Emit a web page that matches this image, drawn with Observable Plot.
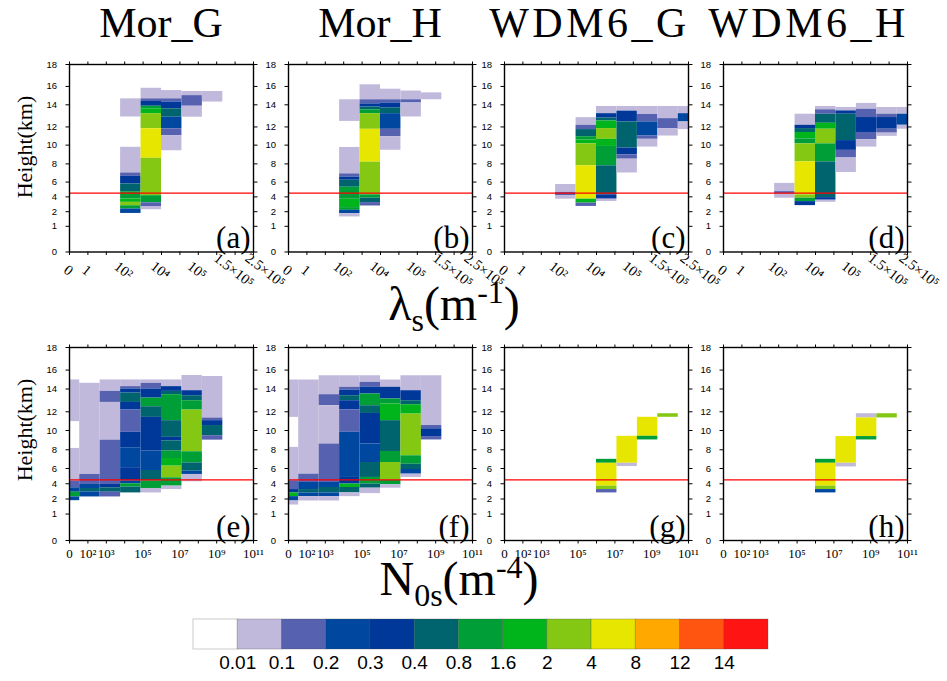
<!DOCTYPE html>
<html>
<head>
<meta charset="utf-8">
<script src="https://cdn.jsdelivr.net/npm/d3@7"></script>
<script src="https://cdn.jsdelivr.net/npm/@observablehq/plot@0.6"></script>
<style>
  html, body { margin: 0; padding: 0; background: #fff; }
  #root { position: relative; width: 947px; height: 681px; overflow: hidden; background: #fff; }
  .lbl { position: absolute; font-family: "Liberation Serif", "DejaVu Serif", serif; color: #000; white-space: nowrap; }
  .title { font-size: 42px; line-height: 42px; text-align: center; width: 260px; }
  .title.wide { letter-spacing: 3.5px; }
  .ylab { font-size: 22px; line-height: 22px; transform: translate(-50%, -50%) rotate(-90deg); }
  .xlab { font-size: 48px; line-height: 30px; transform: translateX(-50%); }
  .xlab sub, .xlab sup { font-size: 32px; line-height: 0; }
</style>
</head>
<body>
<div id="root"></div>
<script>
// Frequency classes (%) and their colours
const levels = [0.01, 0.1, 0.2, 0.3, 0.4, 0.8, 1.6, 2, 4, 8, 12, 14];
const palette = ["#ffffff", "#c1b9dc", "#5662b0", "#0047a0", "#00389a", "#00646e",
                 "#009e37", "#00b41c", "#84c814", "#e6e600", "#ffa800", "#ff5510", "#ff1414"];

const schemes = ["Mor_G", "Mor_H", "WDM6_G", "WDM6_H"];
const panelTags = ["(a)", "(b)", "(c)", "(d)", "(e)", "(f)", "(g)", "(h)"];

// Height axis (km) and melting level
const heightTicks = [0, 1, 2, 4, 6, 8, 10, 12, 14, 16, 18];
const meltingLevel = 4.5;

// Bin tick labels: slope parameter (top row) and intercept parameter (bottom row)
const lambdaTicks = ["0", "1", "10²", "10⁴", "10⁵", "1.5×10⁵", "2.5×10⁵"];
const lambdaTickAt = [0, 1, 3, 5, 7, 9, 10.7];
const n0Ticks = ["0", "10²", "10³", "10⁵", "10⁷", "10⁹", "10¹¹"];
const n0TickAt = [0, 1, 2, 4, 6, 8, 10];

// Segments: [bin, bottom km, top km, frequency class lower bound]
const morG_lambda = [
  [3, 12.9, 14.65, 0.01], [3, 7.0, 9.77, 0.01], [3, 6.63, 7.0, 0.1], [3, 5.74, 6.63, 0.3],
  [3, 4.7, 5.74, 0.4], [3, 3.72, 4.7, 0.8], [3, 3.26, 3.72, 1.6], [3, 2.8, 3.26, 2],
  [3, 2.36, 2.8, 0.8], [3, 1.88, 2.36, 0.2],
  [4, 14.65, 15.8, 0.01], [4, 14.36, 14.65, 0.1], [4, 13.87, 14.36, 0.3], [4, 13.64, 13.87, 0.8],
  [4, 13.2, 13.64, 1.6], [4, 11.8, 13.2, 2], [4, 8.6, 11.8, 4], [4, 4.16, 8.6, 2],
  [4, 3.2, 4.16, 0.8], [4, 2.7, 3.2, 0.1], [4, 2.26, 2.7, 0.01],
  [5, 14.65, 15.55, 0.01], [5, 14.3, 14.65, 0.1], [5, 13.64, 14.3, 0.3], [5, 12.88, 13.64, 0.4],
  [5, 11.8, 12.88, 0.2], [5, 11.05, 11.8, 0.1], [5, 9.4, 11.05, 0.01],
  [6, 15.0, 15.45, 0.01], [6, 13.87, 15.0, 0.1], [6, 12.88, 13.87, 0.01],
  [7, 14.3, 15.45, 0.01]
];
const morH_lambda = [
  [3, 12.5, 14.55, 0.01], [3, 6.9, 9.75, 0.01], [3, 6.55, 6.9, 0.1], [3, 6.2, 6.55, 0.3],
  [3, 5.3, 6.2, 0.4], [3, 3.68, 5.3, 0.8], [3, 2.55, 3.68, 1.6], [3, 2.18, 2.55, 0.8],
  [3, 1.86, 2.18, 0.2], [3, 1.64, 1.86, 0.01],
  [4, 14.55, 16.15, 0.01], [4, 14.1, 14.55, 0.1], [4, 13.8, 14.1, 0.3], [4, 13.55, 13.8, 0.4],
  [4, 13.2, 13.55, 0.8], [4, 11.74, 13.2, 2], [4, 8.18, 11.74, 4], [4, 4.28, 8.18, 2],
  [4, 3.82, 4.28, 0.8], [4, 3.23, 3.82, 0.4], [4, 2.77, 3.23, 0.1],
  [5, 14.55, 15.7, 0.01], [5, 14.2, 14.55, 0.1], [5, 13.7, 14.2, 0.3], [5, 13.2, 13.7, 0.4],
  [5, 11.74, 13.2, 0.2], [5, 10.93, 11.74, 0.1], [5, 9.45, 10.93, 0.01],
  [6, 14.55, 15.5, 0.01], [6, 14.2, 14.55, 0.1], [6, 12.9, 14.2, 0.01],
  [7, 14.55, 15.3, 0.01]
];
const wdmG_lambda = [
  [3, 4.6, 5.67, 0.01], [3, 4.14, 4.6, 0.1], [3, 3.69, 4.14, 0.01],
  [4, 12.15, 12.84, 0.01], [4, 11.71, 12.15, 0.1], [4, 10.93, 11.71, 0.4], [4, 10.57, 10.93, 0.8],
  [4, 10.14, 10.57, 1.6], [4, 7.79, 10.14, 2], [4, 3.69, 7.79, 4], [4, 3.16, 3.69, 1.6],
  [4, 2.71, 3.16, 0.1],
  [5, 13.2, 13.85, 0.01], [5, 12.8, 13.2, 0.3], [5, 12.54, 12.8, 0.4], [5, 11.82, 12.54, 1.6],
  [5, 10.64, 11.82, 2], [5, 9.86, 10.64, 1.6], [5, 7.79, 9.86, 0.8], [5, 4.28, 7.79, 0.4],
  [5, 3.69, 4.28, 0.3], [5, 3.38, 3.69, 0.01],
  [6, 13.43, 13.85, 0.01], [6, 12.45, 13.43, 0.3], [6, 9.68, 12.45, 0.4], [6, 8.96, 9.68, 0.3],
  [6, 8.5, 8.96, 0.1], [6, 7.0, 8.5, 0.01],
  [7, 13.13, 13.85, 0.01], [7, 12.45, 13.13, 0.1], [7, 11.0, 12.45, 0.2], [7, 10.64, 11.0, 0.1],
  [7, 9.79, 10.64, 0.01],
  [8, 12.75, 13.85, 0.01], [8, 11.82, 12.75, 0.1], [8, 11.0, 11.82, 0.01],
  [9, 13.2, 13.85, 0.01], [9, 12.45, 13.2, 0.2], [9, 11.71, 12.45, 0.01]
];
const wdmH_lambda = [
  [3, 4.71, 5.82, 0.01], [3, 4.36, 4.71, 0.1], [3, 3.82, 4.36, 0.01],
  [4, 12.15, 13.15, 0.01], [4, 11.82, 12.15, 0.3], [4, 11.39, 11.82, 0.4], [4, 10.68, 11.39, 1.6],
  [4, 10.14, 10.68, 0.8], [4, 8.21, 10.14, 2], [4, 4.27, 8.21, 4], [4, 3.82, 4.27, 2],
  [4, 3.36, 3.82, 0.8], [4, 2.82, 3.36, 0.3],
  [5, 13.55, 13.85, 0.01], [5, 13.15, 13.55, 0.1], [5, 12.33, 13.15, 0.4], [5, 11.75, 12.33, 1.6],
  [5, 10.14, 11.75, 2], [5, 8.21, 10.14, 0.8], [5, 3.9, 8.21, 0.4], [5, 3.55, 3.9, 0.3],
  [5, 3.27, 3.55, 0.01],
  [6, 13.45, 13.76, 0.01], [6, 13.15, 13.45, 0.3], [6, 10.5, 13.15, 0.4], [6, 9.44, 10.5, 0.3],
  [6, 8.63, 9.44, 0.1], [6, 7.05, 8.63, 0.01],
  [7, 13.6, 14.15, 0.01], [7, 12.85, 13.6, 0.1], [7, 11.39, 12.85, 0.3], [7, 10.6, 11.39, 0.1],
  [7, 9.79, 10.6, 0.01],
  [8, 13.15, 13.76, 0.01], [8, 12.85, 13.15, 0.1], [8, 11.75, 12.85, 0.3], [8, 11.32, 11.75, 0.1],
  [8, 10.96, 11.32, 0.01],
  [9, 13.15, 13.76, 0.01], [9, 12.15, 13.15, 0.2], [9, 11.75, 12.15, 0.01]
];
const morG_n0 = [
  [0, 10.95, 14.96, 0.01], [0, 4.35, 8.14, 0.01], [0, 3.47, 4.35, 0.1], [0, 2.89, 3.47, 0.2],
  [0, 2.27, 2.89, 0.8], [0, 1.89, 2.27, 0.2],
  [1, 5.22, 14.6, 0.01], [1, 3.91, 5.22, 0.1], [1, 3.38, 3.91, 0.2], [1, 2.93, 3.38, 0.4],
  [1, 2.27, 2.93, 0.2],
  [2, 13.79, 14.96, 0.01], [2, 12.82, 13.79, 0.1], [2, 9.0, 12.82, 0.01], [2, 3.91, 9.0, 0.1],
  [2, 3.47, 3.91, 0.3], [2, 2.89, 3.47, 0.4], [2, 2.27, 2.89, 0.1],
  [3, 14.25, 14.96, 0.01], [3, 14.0, 14.25, 0.1], [3, 13.64, 14.0, 0.3], [3, 12.82, 13.64, 0.4],
  [3, 12.15, 12.82, 0.3], [3, 9.82, 12.15, 0.1], [3, 8.21, 9.82, 0.3], [3, 6.09, 8.21, 0.2],
  [3, 4.35, 6.09, 0.3], [3, 4.0, 4.35, 0.2], [3, 3.56, 4.0, 0.8], [3, 2.8, 3.56, 0.4],
  [4, 14.6, 14.96, 0.01], [4, 14.0, 14.6, 0.1], [4, 13.2, 14.0, 0.3], [4, 12.44, 13.2, 0.8],
  [4, 11.4, 12.44, 0.4], [4, 7.86, 11.4, 0.3], [4, 5.74, 7.86, 0.2], [4, 4.35, 5.74, 0.4],
  [4, 3.38, 4.35, 0.8], [4, 2.8, 3.38, 0.01],
  [5, 14.25, 14.96, 0.01], [5, 13.79, 14.25, 0.3], [5, 13.5, 13.79, 0.4], [5, 11.05, 13.5, 0.8],
  [5, 9.29, 11.05, 0.4], [5, 8.93, 9.29, 0.3], [5, 7.86, 8.93, 0.4], [5, 7.07, 7.86, 0.8],
  [5, 6.25, 7.07, 1.6], [5, 4.78, 6.25, 2], [5, 3.69, 4.78, 0.8], [5, 3.24, 3.69, 0.01],
  [6, 13.85, 15.43, 0.01], [6, 13.41, 13.85, 0.3], [6, 12.97, 13.41, 0.4], [6, 12.15, 12.97, 0.8],
  [6, 7.79, 12.15, 2], [6, 6.6, 7.79, 0.8], [6, 5.65, 6.6, 0.4], [6, 5.22, 5.65, 0.2],
  [6, 4.26, 5.22, 0.01],
  [7, 11.33, 15.32, 0.01], [7, 11.05, 11.33, 0.1], [7, 10.53, 11.05, 0.3], [7, 9.46, 10.53, 0.4],
  [7, 9.0, 9.46, 0.1]
];
const morH_n0 = [
  [0, 11.4, 14.95, 0.01], [0, 4.39, 8.25, 0.01], [0, 3.24, 4.39, 0.1], [0, 2.8, 3.24, 0.3],
  [0, 2.31, 2.8, 1.6], [0, 1.87, 2.31, 0.2], [0, 1.6, 1.87, 0.01],
  [1, 5.26, 14.95, 0.01], [1, 4.17, 5.26, 0.1], [1, 3.24, 4.17, 0.2], [1, 2.8, 3.24, 0.4],
  [1, 2.31, 2.8, 0.2], [1, 1.87, 2.31, 0.01],
  [2, 13.5, 15.4, 0.01], [2, 12.53, 13.5, 0.1], [2, 8.6, 12.53, 0.01], [2, 4.17, 8.6, 0.1],
  [2, 3.51, 4.17, 0.2], [2, 2.8, 3.51, 0.4], [2, 2.31, 2.8, 0.2], [2, 1.87, 2.31, 0.01],
  [3, 14.18, 15.4, 0.01], [3, 13.9, 14.18, 0.1], [3, 13.41, 13.9, 0.3], [3, 12.97, 13.41, 0.4],
  [3, 12.18, 12.97, 0.3], [3, 9.82, 12.18, 0.1], [3, 4.83, 9.82, 0.2], [3, 3.96, 4.83, 0.3],
  [3, 3.51, 3.96, 1.6], [3, 2.8, 3.51, 0.4], [3, 2.31, 2.8, 0.01],
  [4, 14.7, 15.4, 0.01], [4, 14.18, 14.7, 0.1], [4, 13.56, 14.18, 0.3], [4, 12.53, 13.56, 0.8],
  [4, 11.82, 12.53, 0.4], [4, 8.6, 11.82, 0.3], [4, 6.64, 8.6, 0.2], [4, 4.83, 6.64, 0.4],
  [4, 3.96, 4.83, 0.8], [4, 3.42, 3.96, 0.4], [4, 2.71, 3.42, 0.01],
  [5, 14.18, 14.95, 0.01], [5, 13.12, 14.18, 0.3], [5, 12.68, 13.12, 0.8], [5, 11.05, 12.68, 1.6],
  [5, 7.82, 11.05, 0.4], [5, 6.64, 7.82, 0.8], [5, 4.48, 6.64, 2], [5, 3.87, 4.48, 0.8],
  [5, 3.42, 3.87, 0.01],
  [6, 13.85, 15.4, 0.01], [6, 12.97, 13.85, 0.3], [6, 12.62, 12.97, 0.4], [6, 11.75, 12.62, 1.6],
  [6, 7.36, 11.75, 2], [6, 6.46, 7.36, 0.8], [6, 5.87, 6.46, 0.4], [6, 5.26, 5.87, 0.2],
  [6, 4.83, 5.26, 0.01],
  [7, 10.53, 15.4, 0.01], [7, 10.18, 10.53, 0.1], [7, 9.37, 10.18, 0.3], [7, 9.02, 9.37, 0.1]
];
const wdmG_n0 = [
  [5, 6.56, 6.98, 0.8], [5, 3.69, 6.56, 4], [5, 3.24, 3.69, 2], [5, 2.8, 3.24, 0.1],
  [6, 6.56, 9.4, 4], [6, 6.21, 6.56, 0.01],
  [7, 9.4, 11.41, 4], [7, 9.02, 9.4, 0.8],
  [8, 11.41, 11.79, 2]
];
const wdmH_n0 = [
  [5, 6.56, 6.98, 0.8], [5, 3.69, 6.56, 4], [5, 3.24, 3.69, 2], [5, 2.8, 3.24, 0.2],
  [6, 6.56, 9.37, 4], [6, 6.17, 6.56, 0.01],
  [7, 11.34, 11.79, 0.01], [7, 9.37, 11.34, 4], [7, 9.02, 9.37, 0.8],
  [8, 11.34, 11.79, 2]
];

// ---- layout ----
const serif = '"Liberation Serif", "DejaVu Serif", serif';
const sans = '"Liberation Sans", Arial, "DejaVu Sans", sans-serif';
const FW = 184, ML = 45, MR = 12, MT = 8, MB = 60;
const frameLefts = [69, 288, 503.5, 722.5];
const rows = [{top: 64, h: 187.5}, {top: 346.5, h: 193}];
// vertical position of each height tick, as a fraction of the frame height from the top
const heightTickFrac = [1, 0.863, 0.785, 0.706, 0.627, 0.530, 0.430, 0.333, 0.215, 0.117, 0];

const color = {type: "threshold", domain: levels, range: palette};
const root = document.getElementById("root");

function place(node, left, top) {
  node.style.position = "absolute";
  node.style.left = left + "px";
  node.style.top = top + "px";
  root.appendChild(node);
}

function panel(data, tag, col, row) {
  const {top, h} = rows[row];
  const bottomRow = row === 1;
  const labels = bottomRow ? n0Ticks : lambdaTicks;
  const at = bottomRow ? n0TickAt : lambdaTickAt;
  const tickPos = d3.range(11).map(k => k * 0.9);
  const tickText = labels.map((t, i) => ({t, x: at[i] * 0.9}));
  const chart = Plot.plot({
    width: FW + ML + MR,
    height: h + MT + MB,
    marginLeft: ML, marginRight: MR, marginTop: MT, marginBottom: MB,
    style: {fontFamily: sans, fontSize: "9.5px", overflow: "visible", background: "transparent"},
    x: {type: "linear", domain: [0, 9]},
    // piecewise-linear height axis
    y: {type: "linear", domain: heightTicks, range: heightTickFrac.map(f => MT + f * h)},
    color,
    marks: [
      Plot.rect(data, {
        x1: d => Math.max(0, d[0] - 0.5), x2: d => Math.min(9, d[0] + 0.5),
        y1: d => d[1], y2: d => d[2], fill: d => d[3]
      }),
      Plot.ruleY([meltingLevel], {stroke: "#ff0000", strokeWidth: 1.3}),
      Plot.frame({stroke: "#000", strokeWidth: 1.4}),
      Plot.axisY({ticks: heightTicks, anchor: "left", tickSize: 3.5, tickPadding: 9, label: null}),
      Plot.axisY({ticks: heightTicks, anchor: "right", tickSize: 3.5, tickFormat: () => "", label: null}),
      Plot.axisX({ticks: tickPos, anchor: "top", tickSize: 3.5, tickFormat: () => "", label: null}),
      Plot.axisX({ticks: tickPos, anchor: "bottom", tickSize: 3.5, tickFormat: () => "", label: null}),
      bottomRow
        ? Plot.text(tickText, {x: "x", text: "t", frameAnchor: "bottom", dy: 8, lineAnchor: "top",
                               fontSize: 13, fontFamily: serif})
        : Plot.text(tickText, {x: "x", text: "t", frameAnchor: "bottom", dx: -4, dy: 22, rotate: 38,
                               fontSize: 14.5, fontFamily: serif}),
      Plot.text([tag], {text: d => d, frameAnchor: "bottom-right", dx: -3, dy: -4, textAnchor: "end",
                        lineAnchor: "bottom", fontSize: 31, fontFamily: serif})
    ]
  });
  place(chart, frameLefts[col] - ML, top - MT);
}

const panelData = [morG_lambda, morH_lambda, wdmG_lambda, wdmH_lambda, morG_n0, morH_n0, wdmG_n0, wdmH_n0];
panelData.forEach((data, i) => panel(data, panelTags[i], i % 4, Math.floor(i / 4)));

// column titles
schemes.forEach((s, i) => {
  const wide = s.startsWith("WDM");
  const d = document.createElement("div");
  d.className = "lbl title" + (wide ? " wide" : "");
  d.textContent = s;
  place(d, frameLefts[i] + FW / 2 - 130 - (wide ? 6 : 0), 2);
});

// axis titles
function label(html, cls, left, top) {
  const d = document.createElement("div");
  d.className = "lbl " + cls;
  d.innerHTML = html;
  place(d, left, top);
}
label("Height(km)", "ylab", 25, 147);
label("Height(km)", "ylab", 25, 430);
label("λ<sub>s</sub>(m<sup>-1</sup>)", "xlab", 454, 289);
label("N<sub>0s</sub>(m<sup>-4</sup>)", "xlab", 459, 564);

// colour bar
const bins = palette.map((c, i) => ({i, v: i === 0 ? 0 : levels[i - 1]}));
const bar = Plot.plot({
  width: 575 + 20, height: 30 + 40,
  marginLeft: 10, marginRight: 10, marginTop: 0, marginBottom: 40,
  style: {fontFamily: sans, overflow: "visible", background: "transparent"},
  x: {type: "linear", domain: [0, 13], axis: null},
  y: {type: "linear", domain: [0, 1], axis: null},
  color,
  marks: [
    Plot.rect(bins, {x1: "i", x2: d => d.i + 1, y1: 0, y2: 1, fill: "v",
                     stroke: "#444", strokeOpacity: 0.35, strokeWidth: 0.8}),
    Plot.text(levels, {x: (d, i) => i + 1, text: d => String(d), frameAnchor: "bottom", dy: 6,
                       lineAnchor: "top", fontSize: 19, fontFamily: sans})
  ]
});
place(bar, 193 - 10, 619);
</script>
</body>
</html>
